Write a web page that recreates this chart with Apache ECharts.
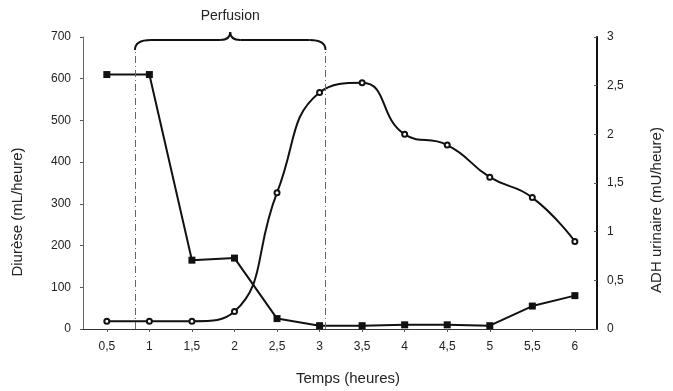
<!DOCTYPE html>
<html>
<head>
<meta charset="utf-8">
<script src="https://cdn.jsdelivr.net/npm/echarts@6/dist/echarts.min.js"></script>
<style>
  html, body { margin: 0; padding: 0; background: #fff; }
  #chart { width: 673px; height: 391px; }
</style>
</head>
<body>
<div id="chart"></div>
<script>
// hours
const hours = [0.5, 1, 1.5, 2, 2.5, 3, 3.5, 4, 4.5, 5, 5.5, 6];
// urine output (mL/heure), left axis
const diurese = [610, 610, 165, 170, 25, 8, 8, 10, 10, 8, 55, 80];
// urinary ADH (mU/heure), right axis
const adh = [0.08, 0.08, 0.08, 0.18, 1.4, 2.43, 2.53, 2.0, 1.89, 1.56, 1.35, 0.9];
// infusion window (hours)
const perfusion = [0.83, 3.07];

const comma = (v) => String(v).replace(".", ",");
const font = "Liberation Sans, Arial, sans-serif";

const chart = echarts.init(document.getElementById("chart"));

const option = {
  animation: false,
  grid: { left: 83, right: 76, top: 37, bottom: 61 },
  xAxis: {
    type: "value",
    min: 0.22,
    max: 6.26,
    name: "Temps (heures)",
    nameLocation: "middle",
    nameGap: 42,
    nameTextStyle: { fontFamily: font, fontSize: 15, color: "#222", padding: [0, 0, 0, 16] },
    axisLine: { lineStyle: { color: "#333", width: 1 } },
    axisTick: { show: true, customValues: hours, length: 3, lineStyle: { color: "#555" } },
    axisLabel: {
      customValues: hours,
      formatter: comma,
      fontFamily: font,
      fontSize: 12,
      color: "#222",
      margin: 12
    },
    splitLine: { show: false }
  },
  yAxis: [
    {
      type: "value",
      min: 0,
      max: 700,
      interval: 100,
      name: "Diurèse (mL/heure)",
      nameLocation: "middle",
      nameGap: 58,
      nameTextStyle: { fontFamily: font, fontSize: 15, color: "#222", padding: [0, 58, 0, 0] },
      axisLine: { show: true, lineStyle: { color: "#666", width: 1 } },
      axisTick: { show: true, length: 3, lineStyle: { color: "#555" } },
      axisLabel: { fontFamily: font, fontSize: 12, color: "#222", margin: 12 },
      splitLine: { show: false }
    },
    {
      type: "value",
      min: 0,
      max: 3,
      interval: 0.5,
      position: "right",
      name: "ADH urinaire (mU/heure)",
      nameLocation: "middle",
      nameGap: 52,
      nameRotate: 90,
      nameTextStyle: { fontFamily: font, fontSize: 15, color: "#222", padding: [0, 54, 0, 0] },
      axisLine: { show: true, lineStyle: { color: "#111", width: 2 } },
      axisTick: { show: true, length: 3, inside: true, lineStyle: { color: "#555" } },
      axisLabel: { formatter: comma, fontFamily: font, fontSize: 12, color: "#222", margin: 10 },
      splitLine: { show: false }
    }
  ],
  series: [
    {
      name: "Diurèse",
      type: "line",
      yAxisIndex: 0,
      data: hours.map((h, i) => [h, diurese[i]]),
      symbol: "rect",
      symbolSize: 7,
      itemStyle: { color: "#111" },
      lineStyle: { color: "#111", width: 2 },
      z: 3
    },
    {
      name: "ADH",
      type: "line",
      yAxisIndex: 1,
      smooth: 0.5,
      data: hours.map((h, i) => [h, adh[i]]),
      symbol: "emptyCircle",
      symbolSize: 5,
      itemStyle: { color: "#111", borderWidth: 1 },
      lineStyle: { color: "#111", width: 2 },
      z: 4
    },
    {
      name: "perfusion",
      type: "line",
      data: [],
      markLine: {
        silent: true,
        symbol: "none",
        label: { show: false },
        lineStyle: { color: "#666", width: 1, type: [7, 3, 1, 3] },
        data: perfusion.map((h) => [
          { coord: [h, 0] },
          { coord: [h, 665] }
        ])
      }
    }
  ]
};

chart.setOption(option);

// brace over the infusion window
const p1 = chart.convertToPixel({ xAxisIndex: 0 }, perfusion[0]);
const p2 = chart.convertToPixel({ xAxisIndex: 0 }, perfusion[1]);
const pm = (p1 + p2) / 2;
const y0 = 40;
const braceStyle = { fill: "none", stroke: "#111", lineWidth: 2 };

chart.setOption({
  graphic: [
    {
      type: "bezierCurve",
      shape: { x1: p1, y1: y0 + 10, cpx1: p1, cpy1: y0, x2: p1 + 16, y2: y0 },
      style: braceStyle
    },
    {
      type: "line",
      shape: { x1: p1 + 16, y1: y0, x2: pm - 10, y2: y0 },
      style: braceStyle
    },
    {
      type: "bezierCurve",
      shape: { x1: pm - 10, y1: y0, cpx1: pm, cpy1: y0, x2: pm, y2: y0 - 8 },
      style: braceStyle
    },
    {
      type: "bezierCurve",
      shape: { x1: pm, y1: y0 - 8, cpx1: pm, cpy1: y0, x2: pm + 10, y2: y0 },
      style: braceStyle
    },
    {
      type: "line",
      shape: { x1: pm + 10, y1: y0, x2: p2 - 16, y2: y0 },
      style: braceStyle
    },
    {
      type: "bezierCurve",
      shape: { x1: p2 - 16, y1: y0, cpx1: p2, cpy1: y0, x2: p2, y2: y0 + 10 },
      style: braceStyle
    },
    {
      type: "text",
      x: pm,
      y: 9,
      style: {
        text: "Perfusion",
        font: "14px " + font,
        fill: "#222",
        textAlign: "center"
      }
    }
  ]
});
</script>
</body>
</html>
